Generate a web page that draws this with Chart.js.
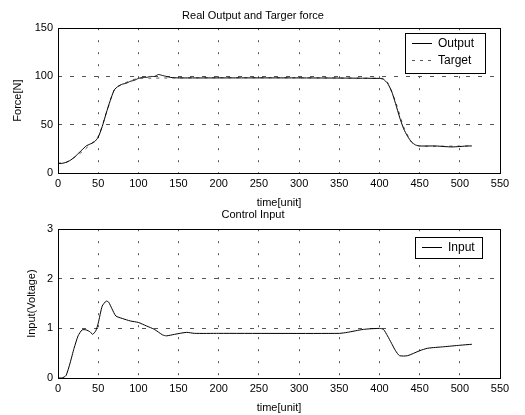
<!DOCTYPE html>
<html>
<head>
<meta charset="utf-8">
<script src="https://cdn.jsdelivr.net/npm/chart.js@4"></script>
<style>
  body { margin: 0; background: #fff; }
  #wrap { position: relative; width: 525px; height: 415px; }
  .box { position: absolute; left: 0; width: 525px; }
</style>
</head>
<body>
<div id="wrap">
  <div class="box" style="top:0;height:210px"><canvas id="top" width="525" height="210"></canvas></div>
  <div class="box" style="top:205px;height:210px"><canvas id="bottom" width="525" height="210"></canvas></div>
</div>
<script>
// values
var outTime  = [0, 5, 10, 15, 20, 25, 30, 35, 40, 45, 50, 55, 60, 65, 70, 75, 80, 85, 90, 95, 100, 105, 110, 115, 120, 125, 130, 135, 140, 150, 200, 300, 400, 405, 410, 415, 420, 425, 430, 435, 440, 445, 450, 470, 490, 510, 515];
var outForce = [10, 10, 11, 13, 16, 20, 24, 28, 30, 32, 37, 48, 62, 75, 86, 90, 92, 93, 95, 96, 98, 99, 99, 100, 100, 102, 101, 100, 99, 98.5, 98.5, 98.5, 98, 97, 93, 85, 72, 58, 46, 38, 32, 29, 28, 28, 27, 28, 28];

var targetTime  = [0, 10, 30, 50, 60, 70, 80, 100, 405, 410, 420, 430, 440, 450, 515];
var targetForce = [10, 11, 22, 38, 62, 86, 92, 98, 98, 94, 74, 48, 32, 28, 28];

var inTime = [0, 5, 10, 15, 20, 25, 30, 35, 40, 43, 47, 50, 55, 60, 63, 67, 72, 80, 90, 100, 110, 120, 130, 135, 145, 160, 170, 200, 350, 360, 380, 400, 405, 410, 415, 420, 425, 435, 450, 460, 480, 500, 515];
var inVolt = [0, 0, 0.05, 0.3, 0.6, 0.85, 0.97, 0.97, 0.93, 0.88, 0.95, 1.1, 1.45, 1.55, 1.53, 1.4, 1.25, 1.2, 1.15, 1.12, 1.05, 0.98, 0.87, 0.85, 0.88, 0.92, 0.9, 0.9, 0.9, 0.92, 0.98, 1.0, 0.98, 0.85, 0.7, 0.55, 0.45, 0.45, 0.55, 0.6, 0.63, 0.66, 0.68];

var xTicks = [0, 50, 100, 150, 200, 250, 300, 350, 400, 450, 500, 550];

function pts(xs, ys) {
    var p = [];
    for (var i = 0; i < xs.length; i++) {
        p.push({x: xs[i], y: ys[i]});
    }
    return p;
}

var fontFam = '"Liberation Sans", Arial, sans-serif';
Chart.defaults.font.family = fontFam;
Chart.defaults.color = '#000';
Chart.defaults.animation = false;

// box round the plot + matlab style legend box
var frame = {
    id: 'frame',
    afterDraw: function(chart, args, opts) {
        var ctx = chart.ctx, a = chart.chartArea;
        ctx.save();
        ctx.strokeStyle = '#000';
        ctx.lineWidth = 1;
        ctx.setLineDash([]);
        ctx.strokeRect(Math.round(a.left) + 0.5, Math.round(a.top) + 0.5, Math.round(a.right - a.left), Math.round(a.bottom - a.top));

        var lg = opts.legend;
        ctx.fillStyle = '#fff';
        ctx.fillRect(lg.x, lg.y, lg.w, lg.h);
        ctx.strokeRect(lg.x + 0.5, lg.y + 0.5, lg.w, lg.h);
        ctx.font = '12px ' + fontFam;
        ctx.textBaseline = 'middle';
        var ds = chart.data.datasets;
        for (var i = 0; i < ds.length; i++) {
            var yy = lg.y + 10 + i * 17 + 0.5;
            ctx.strokeStyle = ds[i].borderColor;
            ctx.setLineDash(ds[i].borderDash || []);
            ctx.beginPath();
            ctx.moveTo(lg.x + 7, yy);
            ctx.lineTo(lg.x + 27, yy);
            ctx.stroke();
            ctx.fillStyle = '#000';
            ctx.fillText(ds[i].label, lg.x + 33, yy);
        }
        ctx.restore();
    }
};

function makeOpts(title, ytitle, ymax, ystep, legendBox, titlePad, yTitleOff) {
    return {
        responsive: false,
        layout: {padding: {left: 6, right: 25, top: 0, bottom: 0}},
        plugins: {
            legend: {display: false},
            tooltip: {enabled: false},
            title: {
                display: true,
                text: title,
                font: {size: 11, weight: 'normal'},
                padding: titlePad
            },
            frame: {legend: legendBox}
        },
        scales: {
            x: {
                type: 'linear',
                min: 0,
                max: 550,
                afterBuildTicks: function(s) {
                    s.ticks = xTicks.map(function(v) { return {value: v}; });
                },
                afterFit: function(s) { s.height = 37; },
                grid: {color: '#555', lineWidth: 1, drawTicks: false},
                border: {display: false, dash: [2, 10]},
                ticks: {font: {size: 11}, padding: 4, maxRotation: 0, autoSkip: false},
                title: {display: true, text: 'time[unit]', font: {size: 11}, padding: {top: 2, bottom: 0}}
            },
            y: {
                min: 0,
                max: ymax,
                afterFit: function(s) { s.width = 52; },
                grid: {color: '#555', lineWidth: 1, drawTicks: false},
                border: {display: false, dash: [4, 8]},
                ticks: {font: {size: 11}, padding: 5, stepSize: ystep},
                title: {display: true, text: ytitle, font: {size: 11}, padding: {top: yTitleOff, bottom: 4}}
            }
        }
    };
}

var topOpts = makeOpts('Real Output and Targer force', 'Force[N]', 150, 50, {x: 405, y: 33, w: 80, h: 40}, {top: 9, bottom: 6}, 5);

new Chart(document.getElementById('top'), {
    type: 'line',
    data: {
        datasets: [{
            label: 'Output',
            data: pts(outTime, outForce),
            borderColor: '#000',
            borderWidth: 1,
            pointRadius: 0,
            tension: 0.2
        }, {
            label: 'Target',
            data: pts(targetTime, targetForce),
            borderColor: '#555',
            borderWidth: 1,
            borderDash: [3, 5],
            pointRadius: 0,
            tension: 0.2
        }]
    },
    options: topOpts,
    plugins: [frame]
});

var botOpts = makeOpts('Control Input', 'Input(Voltage)', 3, 1, {x: 415, y: 32, w: 67, h: 21}, {top: 3, bottom: 8}, 19);

new Chart(document.getElementById('bottom'), {
    type: 'line',
    data: {
        datasets: [{
            label: 'Input',
            data: pts(inTime, inVolt),
            borderColor: '#000',
            borderWidth: 1,
            pointRadius: 0,
            tension: 0.2
        }]
    },
    options: botOpts,
    plugins: [frame]
});
</script>
</body>
</html>
